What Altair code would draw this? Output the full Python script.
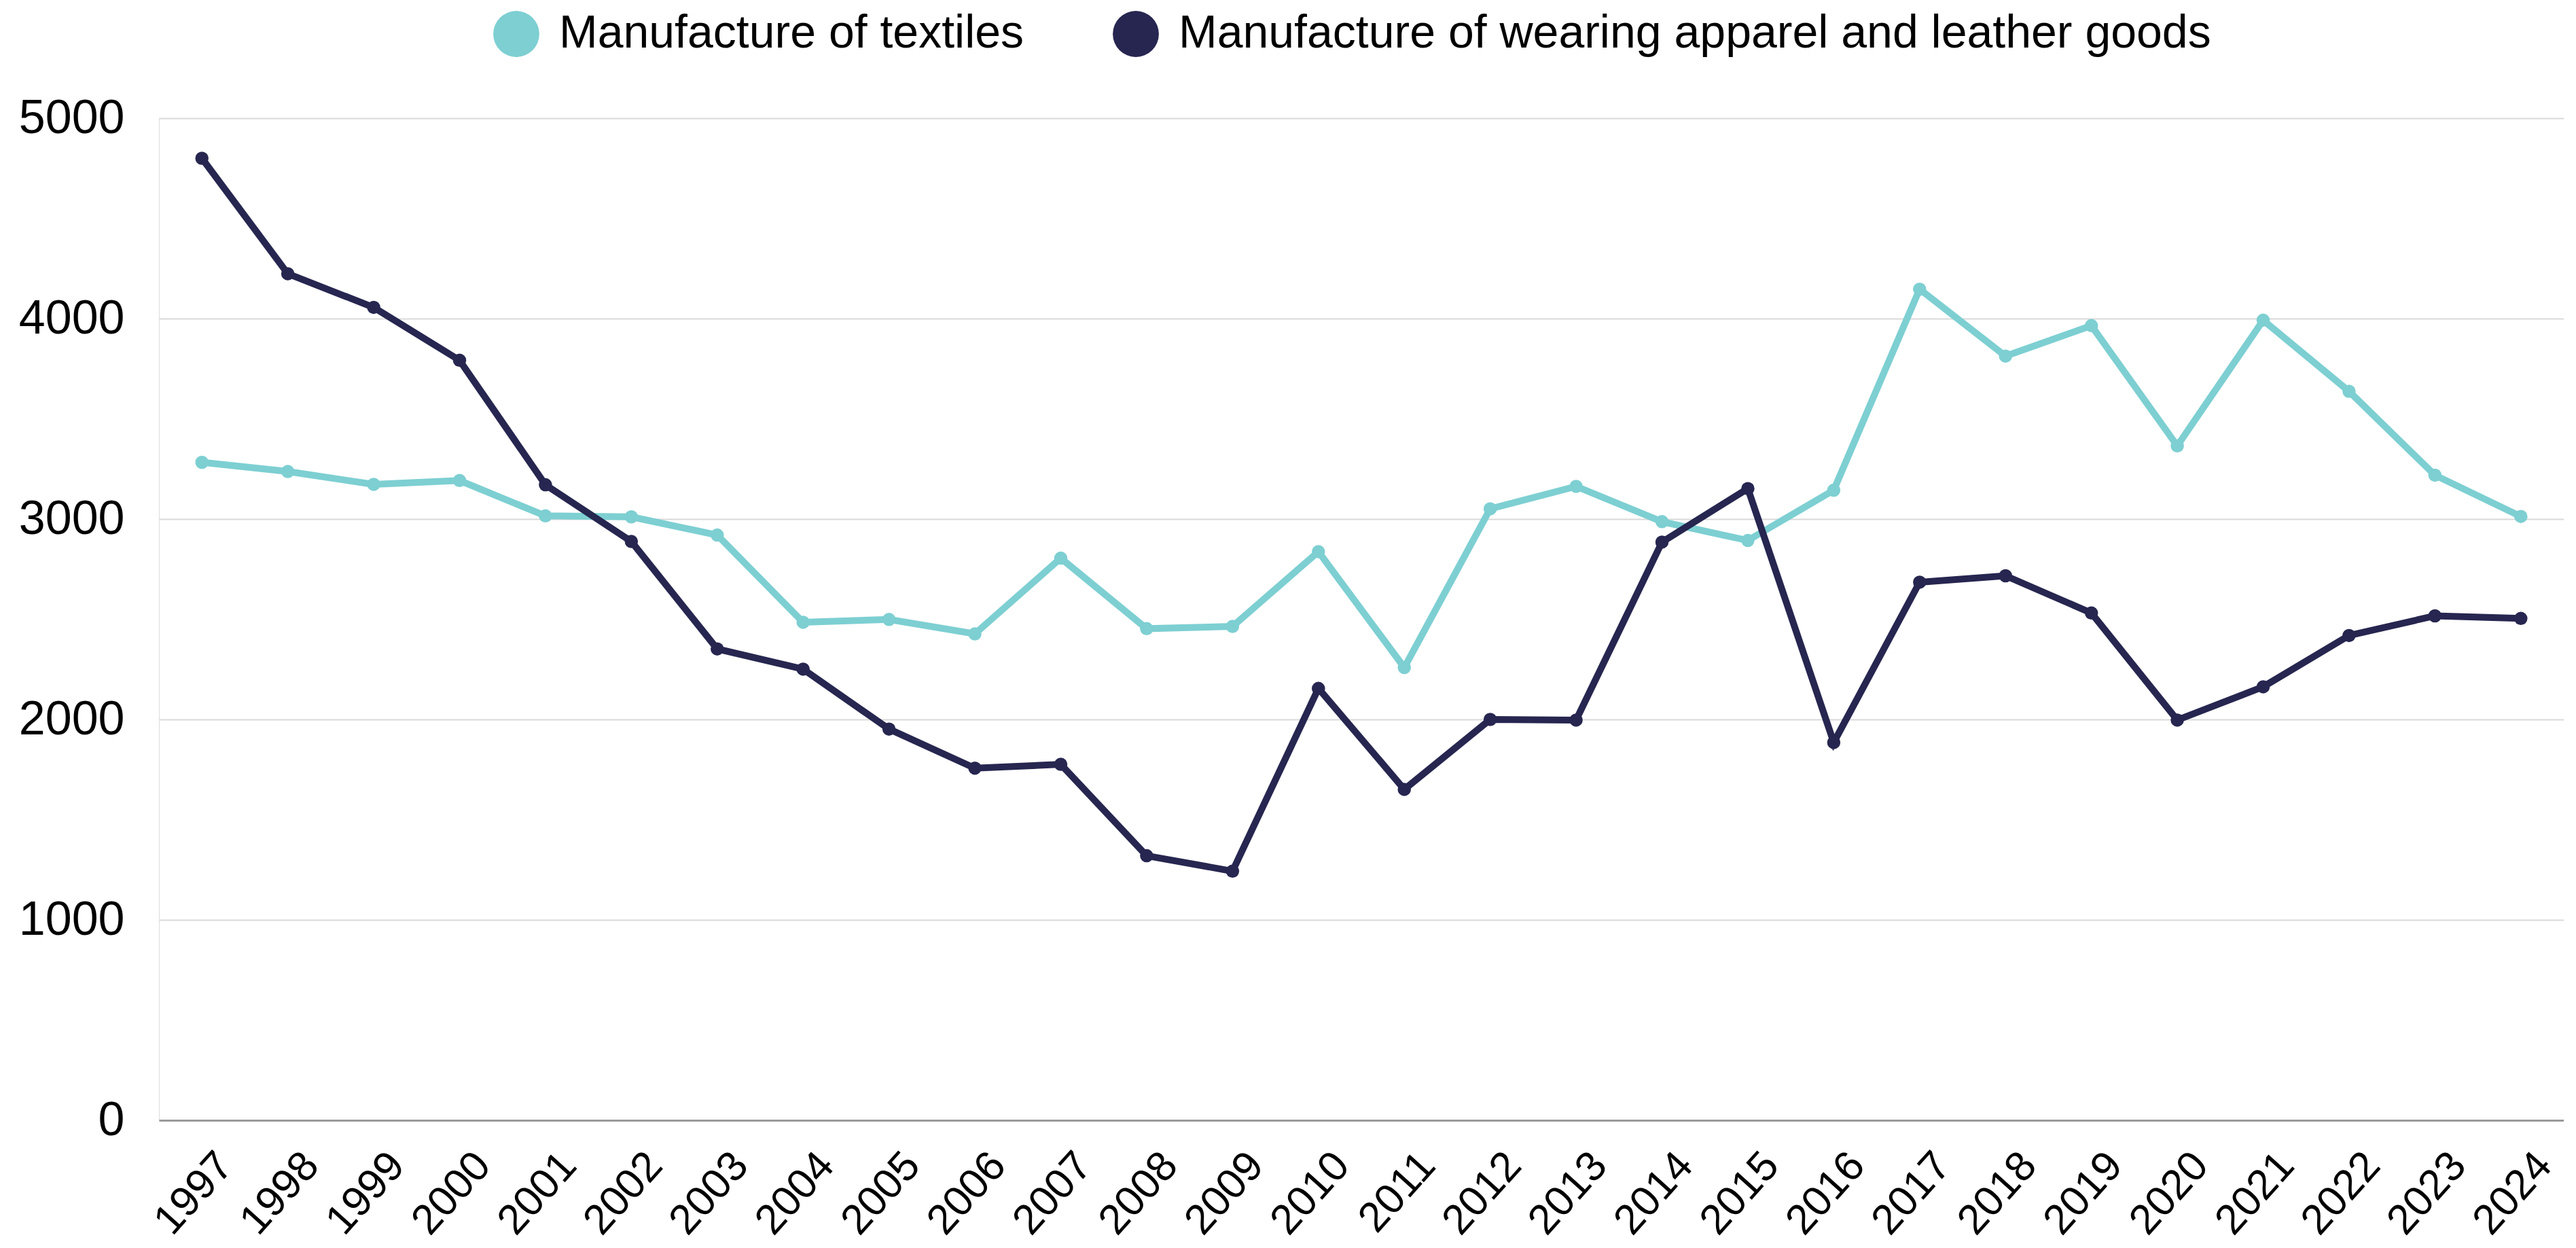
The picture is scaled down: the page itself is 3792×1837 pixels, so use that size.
import altair as alt
import pandas as pd

years = [str(y) for y in range(1997, 2025)]
textiles = [3283, 3237, 3173, 3192, 3016, 3011, 2920, 2485, 2499, 2427, 2805, 2453, 2464, 2837,
            2259, 3051, 3163, 2987, 2893, 3144, 4147, 3813, 3965, 3365, 3992, 3637, 3219, 3013]
apparel = [4800, 4224, 4056, 3792, 3171, 2888, 2352, 2251, 1952, 1757, 1776, 1320, 1243, 2155,
           1651, 2000, 1997, 2885, 3152, 1885, 2685, 2717, 2531, 1997, 2163, 2419, 2517, 2504]
series_names = ["Manufacture of textiles", "Manufacture of wearing apparel and leather goods"]
series_colors = ["#7dcfd2", "#262650"]
y_ticks = [0, 1000, 2000, 3000, 4000, 5000]

rows = []
for name, vals in zip(series_names, [textiles, apparel]):
    for y, v in zip(years, vals):
        rows.append({"year": y, "value": v, "series": name})
df = pd.DataFrame(rows)

color = alt.Color(
    "series:N",
    scale=alt.Scale(domain=series_names, range=series_colors),
    legend=alt.Legend(
        title=None,
        orient="none",
        direction="horizontal",
        legendX=492,
        legendY=-158,
        symbolType="circle",
        symbolSize=4600,
        symbolStrokeWidth=0,
        symbolOpacity=1,
        labelFont="Liberation Sans",
        labelFontSize=68,
        labelColor="#000000",
        labelLimit=2000,
        labelOffset=29,
        columnPadding=130,
    ),
)

base = alt.Chart(df).encode(
    x=alt.X(
        "year:O",
        sort=years,
        scale=alt.Scale(type="point", padding=0.5),
        axis=alt.Axis(
            title=None,
            labelAngle=-48,
            labelFont="Liberation Sans",
            labelFontSize=62,
            labelColor="#000000",
            labelPadding=56,
            labelOffset=34,
            ticks=False,
            grid=False,
            domain=True,
            domainColor="#9a9a9a",
            domainWidth=3,
        ),
    ),
    y=alt.Y(
        "value:Q",
        scale=alt.Scale(domain=[0, 5000], nice=False),
        axis=alt.Axis(
            title=None,
            values=y_ticks,
            format="d",
            labelFont="Liberation Sans",
            labelFontSize=70,
            labelColor="#000000",
            labelPadding=51,
            ticks=False,
            domain=False,
            grid=True,
            gridColor="#d9d9d9",
            gridWidth=2,
        ),
    ),
    color=color,
    order=alt.Order("year:O"),
)

lines = base.mark_line(strokeWidth=10)
points = base.mark_circle(size=380, opacity=1)

chart = (
    alt.layer(lines, points)
    .properties(width=3540, height=1475, padding={"left": 19, "top": 8, "right": 0, "bottom": 0})
    .configure_view(stroke=None)
    .configure(background="#ffffff")
)

chart.save("out.html", embed_options={"renderer": "svg", "actions": False})
